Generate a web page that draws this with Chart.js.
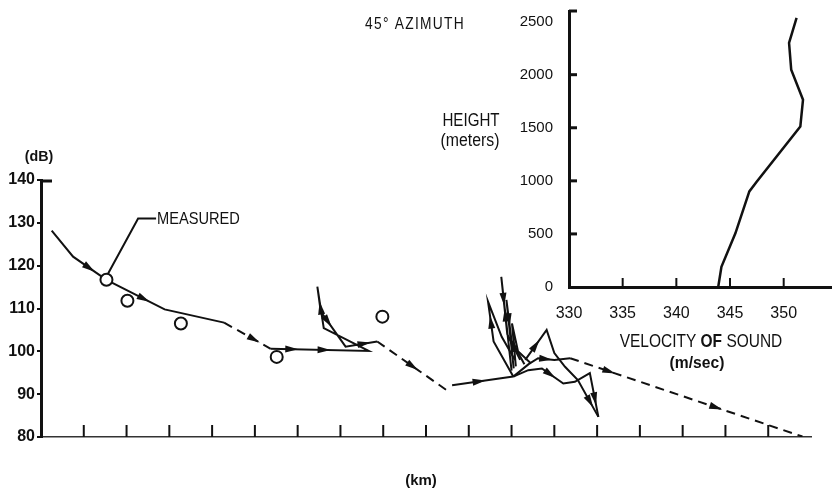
<!DOCTYPE html>
<html>
<head>
<meta charset="utf-8">
<script src="https://cdn.jsdelivr.net/npm/chart.js@4/dist/chart.umd.min.js"></script>
<style>
  html, body { margin: 0; padding: 0; background: #fff; }
  #wrap { position: relative; width: 832px; height: 493px; }
  #wrap canvas { position: absolute; left: 0; top: 0; }
</style>
</head>
<body>
<div id="wrap">
  <canvas id="main" width="832" height="493"></canvas>
  <canvas id="inset" width="832" height="493"></canvas>
</div>
<script>
// --- main chart: level (dB) against range (km) ---
const yTicksDb = [80, 90, 100, 110, 120, 130, 140];

const measuredKm = [1.53, 2.02, 3.27, 5.51, 7.98];
const measuredDb = [116.7, 111.8, 106.5, 98.7, 108.1];

// ray paths, solid and dashed pieces
const path1Km = [0.25, 0.75, 1.53, 2.89, 4.28];
const path1Db = [128.2, 122.1, 116.7, 109.8, 106.7];
const path2Km = [4.28, 5.37];
const path2Db = [106.7, 100.6];
const path3Km = [5.37, 7.66, 6.61, 6.46, 6.54, 7.12, 7.86];
const path3Db = [100.6, 100.1, 105.4, 115.1, 109.3, 101.1, 102.3];
const path4Km = [7.86, 9.53];
const path4Db = [102.3, 90.6];
const path5Km = [9.61, 11.04];
const path5Db = [92.1, 94.1];
const messAKm = [11.04, 10.58, 10.45, 10.77, 11.08];
const messADb = [94.1, 102.3, 111.6, 103.4, 98.0];
const messB1Km = [11.0, 10.76, 10.9, 11.2];
const messB1Db = [95.5, 117.4, 104.0, 98.0];
const messB2Km = [11.05, 10.88, 11.0, 11.3];
const messB2Db = [96.0, 112.0, 102.5, 97.0];
const messCKm = [11.1, 11.01, 11.15, 11.45];
const messCDb = [96.5, 106.5, 100.0, 97.2];
const messDKm = [11.32, 11.82, 12.0, 12.25, 12.55, 13.03];
const messDDb = [98.0, 105.0, 99.6, 96.4, 93.3, 84.7];
const messEKm = [11.04, 11.4, 11.62, 12.0, 12.37];
const messEDb = [94.1, 97.0, 98.4, 98.0, 98.4];
const messFKm = [11.04, 11.39, 11.71, 12.21, 12.48, 12.83, 13.03];
const messFDb = [94.1, 95.6, 96.0, 92.5, 92.9, 94.9, 84.7];
const path6Km = [12.37, 17.8];
const path6Db = [98.4, 80.1];

const leaderKm = [1.55, 2.27, 2.69];
const leaderDb = [117.8, 131.0, 131.0];

// --- inset: sound velocity profile ---
const velocity = [343.9, 344.2, 345.5, 346.8, 347.5, 351.55, 351.8, 350.7, 350.5, 351.2];
const heightM = [0, 190, 506, 900, 993, 1512, 1764, 2047, 2300, 2535];
const velTicks = [330, 335, 340, 345, 350];
const heightTicks = [0, 500, 1000, 1500, 2000, 2500];

const SANS = "'Liberation Sans', Arial, sans-serif";
const INK = '#111';

function pts(xs, ys) {
  return xs.map((x, i) => ({ x: x, y: ys[i] }));
}

function ray(xs, ys, dashed, arrows) {
  return {
    data: pts(xs, ys),
    borderColor: INK,
    borderWidth: 2,
    borderDash: dashed ? [9, 6] : [],
    pointRadius: 0,
    fill: false,
    tension: 0,
    arrows: arrows || []
  };
}

// condensed-looking text: squeeze horizontally
function txt(ctx, s, x, y, font, sx, align) {
  ctx.save();
  ctx.font = font;
  ctx.textAlign = align || 'left';
  ctx.textBaseline = 'middle';
  ctx.translate(x, y);
  ctx.scale(sx, 1);
  ctx.fillText(s, 0, 0);
  ctx.restore();
}

// arrow heads along segments: [segment index, fraction]
const arrowPlugin = {
  id: 'arrowHeads',
  afterDatasetsDraw(chart) {
    const ctx = chart.ctx;
    chart.data.datasets.forEach((ds, di) => {
      if (!ds.arrows || !ds.arrows.length) return;
      const el = chart.getDatasetMeta(di).data;
      ds.arrows.forEach(([i, t]) => {
        const a = el[i], b = el[i + 1];
        if (!a || !b) return;
        const x = a.x + (b.x - a.x) * t;
        const y = a.y + (b.y - a.y) * t;
        ctx.save();
        ctx.translate(x, y);
        ctx.rotate(Math.atan2(b.y - a.y, b.x - a.x));
        ctx.beginPath();
        ctx.moveTo(6, 0);
        ctx.lineTo(-7, -3.5);
        ctx.lineTo(-7, 3.5);
        ctx.closePath();
        ctx.fillStyle = INK;
        ctx.fill();
        ctx.restore();
      });
    });
  }
};

// short tick marks drawn inside the plot
const innerTicksMain = {
  id: 'innerTicksMain',
  afterDraw(chart) {
    const ctx = chart.ctx;
    const xs = chart.scales.x, ys = chart.scales.y;
    ctx.save();
    ctx.strokeStyle = INK;
    ctx.lineWidth = 2;
    xs.ticks.forEach(t => {
      if (t.value <= xs.min || t.value >= xs.max) return;
      const px = xs.getPixelForValue(t.value);
      ctx.beginPath();
      ctx.moveTo(px, ys.bottom);
      ctx.lineTo(px, ys.bottom - 12);
      ctx.stroke();
    });
    // cap at the top of the dB axis
    ctx.lineWidth = 3;
    ctx.beginPath();
    ctx.moveTo(xs.left, ys.top + 1);
    ctx.lineTo(xs.left + 11, ys.top + 1);
    ctx.stroke();
    ctx.restore();
  }
};

const labelsPlugin = {
  id: 'labels',
  afterDraw(chart) {
    const ctx = chart.ctx;
    const xs = chart.scales.x, ys = chart.scales.y;
    ctx.save();
    ctx.fillStyle = INK;

    txt(ctx, '(dB)', 39, 157, 'bold 15px ' + SANS, 0.95, 'center');
    txt(ctx, '(km)', 421, 481, 'bold 15px ' + SANS, 1, 'center');

    txt(ctx, 'MEASURED', xs.getPixelForValue(leaderKm[2]) + 1, ys.getPixelForValue(leaderDb[2]) + 1,
      '17px ' + SANS, 0.86, 'left');

    ctx.letterSpacing = '1.5px';
    txt(ctx, '45° AZIMUTH', 365, 25, '16px ' + SANS, 0.86, 'left');
    ctx.letterSpacing = '0px';

    txt(ctx, 'HEIGHT', 471, 121, '18px ' + SANS, 0.84, 'center');
    txt(ctx, '(meters)', 470, 141, '18px ' + SANS, 0.88, 'center');

    // VELOCITY OF SOUND, "OF" in bold
    const sx = 0.86;
    const parts = [['VELOCITY ', '18px '], ['OF', 'bold 18px '], [' SOUND', '18px ']];
    let total = 0;
    parts.forEach(p => { ctx.font = p[1] + SANS; total += ctx.measureText(p[0]).width * sx; });
    let x = 701 - total / 2;
    parts.forEach(p => {
      txt(ctx, p[0], x, 342, p[1] + SANS, sx, 'left');
      ctx.font = p[1] + SANS;
      x += ctx.measureText(p[0]).width * sx;
    });
    txt(ctx, '(m/sec)', 697, 363, 'bold 17px ' + SANS, 0.92, 'center');
    ctx.restore();
  }
};

new Chart(document.getElementById('main'), {
  type: 'line',
  data: {
    datasets: [
      {
        type: 'scatter',
        data: pts(measuredKm, measuredDb),
        pointRadius: 6,
        pointBorderWidth: 2,
        pointBorderColor: INK,
        pointBackgroundColor: '#fff',
        showLine: false
      },
      ray(leaderKm, leaderDb, false),
      ray(path1Km, path1Db, false, [[1, 0.5], [2, 0.65]]),
      ray(path2Km, path2Db, true, [[0, 0.65]]),
      ray(path3Km, path3Db, false, [[0, 0.22], [0, 0.55], [2, 0.5], [4, 0.3], [5, 0.6]]),
      ray(path4Km, path4Db, true, [[0, 0.5]]),
      ray(path5Km, path5Db, false, [[0, 0.45]]),
      ray(messAKm, messADb, false, [[1, 0.5]]),
      ray(messB1Km, messB1Db, false, [[0, 0.6], [1, 0.4]]),
      ray(messB2Km, messB2Db, false, [[1, 0.5]]),
      ray(messCKm, messCDb, false, [[0, 0.5]]),
      ray(messDKm, messDDb, false, [[0, 0.5], [4, 0.6]]),
      ray(messEKm, messEDb, false, [[2, 0.5]]),
      ray(messFKm, messFDb, false, [[2, 0.4], [5, 0.6]]),
      ray(path6Km, path6Db, true, [[0, 0.17], [0, 0.63]])
    ]
  },
  options: {
    responsive: false,
    animation: false,
    layout: { padding: { left: 0, right: 21, top: 180, bottom: 0 } },
    plugins: { legend: { display: false }, tooltip: { enabled: false } },
    scales: {
      x: {
        type: 'linear',
        min: 0,
        max: 18,
        ticks: { display: false, stepSize: 1 },
        grid: { display: true, drawOnChartArea: false, drawTicks: false },
        border: { color: '#333', width: 1.5 },
        afterFit: s => { s.height = 56; }
      },
      y: {
        min: 80,
        max: 140,
        afterBuildTicks: s => { s.ticks = yTicksDb.map(v => ({ value: v })); },
        ticks: { color: INK, padding: 2, font: { family: SANS, size: 16, weight: 'bold' } },
        grid: { drawOnChartArea: false, tickLength: 4, color: INK, lineWidth: 2 },
        border: { color: INK, width: 3 },
        afterFit: s => { s.width = 41; }
      }
    }
  },
  plugins: [arrowPlugin, innerTicksMain, labelsPlugin]
});

// --- inset chart ---
const innerTicksInset = {
  id: 'innerTicksInset',
  afterDraw(chart) {
    const ctx = chart.ctx;
    const xs = chart.scales.x, ys = chart.scales.y;
    ctx.save();
    ctx.strokeStyle = INK;
    ctx.lineWidth = 2;
    velTicks.forEach(v => {
      const px = xs.getPixelForValue(v);
      ctx.beginPath();
      ctx.moveTo(px, ys.bottom);
      ctx.lineTo(px, ys.bottom - 9);
      ctx.stroke();
    });
    ctx.lineWidth = 3;
    heightTicks.concat([ys.max]).forEach(h => {
      if (h === 0 || h === 2500) return;
      const py = ys.getPixelForValue(h);
      ctx.beginPath();
      ctx.moveTo(xs.left, py);
      ctx.lineTo(xs.left + 8, py);
      ctx.stroke();
    });
    ctx.restore();
  }
};

new Chart(document.getElementById('inset'), {
  type: 'line',
  data: {
    datasets: [{
      data: pts(velocity, heightM),
      borderColor: INK,
      borderWidth: 2.5,
      pointRadius: 0,
      fill: false,
      tension: 0
    }]
  },
  options: {
    responsive: false,
    animation: false,
    layout: { padding: { left: 519, right: 0, top: 11, bottom: 166 } },
    plugins: { legend: { display: false }, tooltip: { enabled: false } },
    scales: {
      x: {
        type: 'linear',
        min: 330,
        max: 354.5,
        afterBuildTicks: s => { s.ticks = velTicks.map(v => ({ value: v })); },
        ticks: { color: INK, padding: 17, font: { family: SANS, size: 16 }, callback: v => String(v) },
        grid: { display: true, drawOnChartArea: false, drawTicks: false },
        border: { color: INK, width: 3 },
        afterFit: s => { s.height = 40; }
      },
      y: {
        min: 0,
        max: 2600,
        afterBuildTicks: s => { s.ticks = heightTicks.map(v => ({ value: v })); },
        ticks: { color: INK, padding: 0, font: { family: SANS, size: 15 }, callback: v => String(v) },
        grid: { display: true, drawOnChartArea: false, drawTicks: true, tickLength: 16, color: 'rgba(0,0,0,0)' },
        border: { color: INK, width: 3 },
        afterFit: s => { s.width = 50; }
      }
    }
  },
  plugins: [innerTicksInset]
});
</script>
</body>
</html>
